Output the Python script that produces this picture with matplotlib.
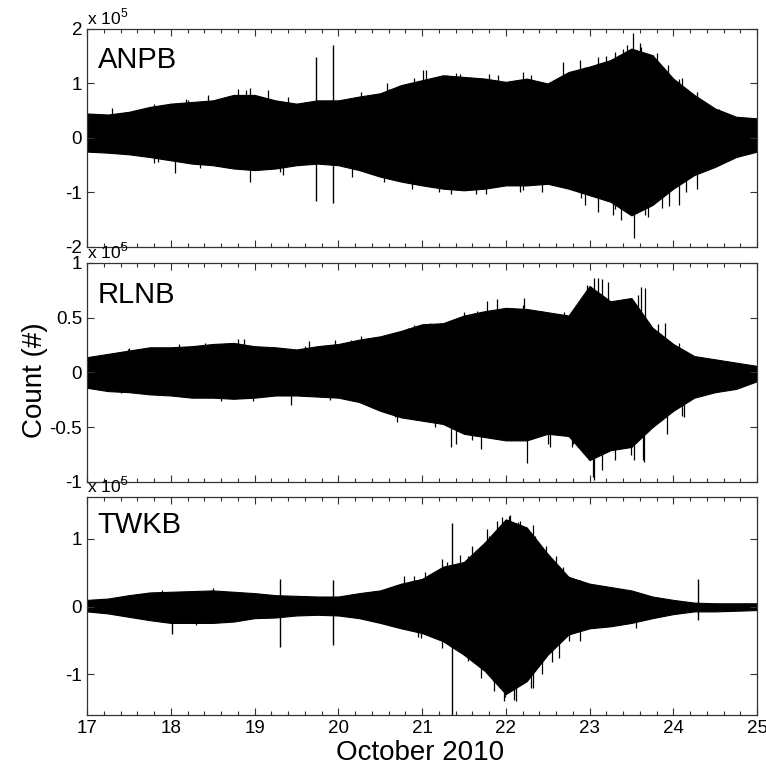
import numpy as np
from matplotlib import pyplot as plt

plt.rcParams.update({
    "font.family": ['Liberation Sans', 'DejaVu Sans'],
    "mathtext.fontset": 'custom',
    "mathtext.rm": 'Liberation Sans',
    "axes.unicode_minus": False,
    "xtick.direction": 'in',
    "ytick.direction": 'in',
})

# envelope readings, units of 1e5 counts
days = [17.0, 17.25, 17.5, 17.75, 18.0, 18.25, 18.5, 18.75, 19.0, 19.25, 19.5,
        19.75, 20.0, 20.25, 20.5, 20.75, 21.0, 21.25, 21.5, 21.75, 22.0, 22.25,
        22.5, 22.75, 23.0, 23.25, 23.5, 23.75, 24.0, 24.25, 24.5, 24.75, 25.0]

anpb_top = [0.45, 0.43, 0.48, 0.57, 0.63, 0.66, 0.69, 0.79, 0.79, 0.69, 0.63,
            0.69, 0.69, 0.76, 0.82, 0.97, 1.06, 1.15, 1.12, 1.09, 1.03, 1.09,
            1.00, 1.21, 1.31, 1.43, 1.64, 1.52, 1.09, 0.79, 0.54, 0.39, 0.36]
anpb_bot = [-0.25, -0.27, -0.30, -0.35, -0.41, -0.47, -0.50, -0.56, -0.59, -0.56, -0.50,
            -0.47, -0.50, -0.59, -0.71, -0.80, -0.87, -0.93, -0.96, -0.93, -0.87, -0.87,
            -0.84, -0.93, -1.05, -1.17, -1.42, -1.23, -0.93, -0.68, -0.53, -0.35, -0.25]

rlnb_top = [0.14, 0.17, 0.20, 0.23, 0.23, 0.24, 0.26, 0.27, 0.24, 0.23, 0.21,
            0.24, 0.26, 0.30, 0.33, 0.38, 0.44, 0.45, 0.52, 0.56, 0.59, 0.58,
            0.55, 0.52, 0.79, 0.65, 0.68, 0.41, 0.26, 0.15, 0.12, 0.09, 0.06]
rlnb_bot = [-0.14, -0.17, -0.18, -0.20, -0.21, -0.23, -0.23, -0.24, -0.23, -0.21, -0.21,
            -0.22, -0.23, -0.27, -0.35, -0.41, -0.44, -0.47, -0.56, -0.59, -0.62, -0.62,
            -0.56, -0.58, -0.80, -0.71, -0.68, -0.50, -0.35, -0.23, -0.18, -0.15, -0.08]

twkb_top = [0.10, 0.12, 0.17, 0.21, 0.22, 0.23, 0.24, 0.22, 0.20, 0.17, 0.16,
            0.15, 0.15, 0.20, 0.24, 0.34, 0.41, 0.59, 0.66, 0.95, 1.29, 1.17,
            0.78, 0.44, 0.34, 0.29, 0.24, 0.15, 0.10, 0.06, 0.05, 0.05, 0.05]
twkb_bot = [-0.07, -0.10, -0.15, -0.20, -0.24, -0.24, -0.24, -0.22, -0.17, -0.16, -0.13,
            -0.12, -0.13, -0.17, -0.24, -0.32, -0.39, -0.51, -0.71, -0.95, -1.29, -1.10,
            -0.71, -0.41, -0.32, -0.29, -0.24, -0.17, -0.11, -0.07, -0.07, -0.06, -0.05]

# fringe spikes sticking out of the envelope
anpb_up_day = [17.3, 17.8, 18.18, 18.2, 18.45, 18.8, 18.9, 18.95, 19.16, 19.4, 20.27,
               20.58, 20.6, 20.9, 21.01, 21.05, 21.3, 21.4, 21.45, 21.8, 21.91, 22.2,
               22.3, 22.68, 22.89, 22.95, 23.1, 23.2, 23.3, 23.4, 23.45, 23.52, 23.6,
               23.61, 23.76, 23.8, 23.94, 24.07, 24.1, 24.28, 24.55]
anpb_up_val = [0.55, 0.62, 0.72, 0.70, 0.78, 0.90, 0.88, 0.91, 0.88, 0.75, 0.85,
               1.00, 0.90, 1.10, 1.24, 1.24, 1.15, 1.20, 1.18, 1.18, 1.15, 1.21,
               1.15, 1.40, 1.43, 1.30, 1.49, 1.50, 1.58, 1.64, 1.70, 1.92, 1.75,
               1.67, 1.52, 1.55, 1.34, 1.09, 1.10, 0.85, 0.54]
anpb_dn_day = [17.8, 17.85, 18.05, 18.35, 18.95, 19.3, 19.34, 20.16, 20.55, 20.88,
               21.2, 21.35, 21.65, 21.76, 22.17, 22.2, 22.43, 22.9, 22.94, 23.1,
               23.28, 23.3, 23.38, 23.53, 23.66, 23.7, 23.87, 23.95, 24.07, 24.15, 24.28]
anpb_dn_val = [-0.45, -0.44, -0.65, -0.55, -0.80, -0.62, -0.68, -0.71, -0.80, -0.93,
               -1.00, -1.02, -1.02, -1.02, -0.99, -0.95, -0.99, -1.10, -1.23, -1.35,
               -1.42, -1.30, -1.51, -1.84, -1.42, -1.45, -1.29, -1.25, -1.23, -1.00, -0.93]

rlnb_up_day = [17.49, 17.5, 18.1, 18.41, 18.8, 18.88, 19.6, 19.65, 19.96, 20.15,
               20.27, 20.83, 20.9, 21.09, 21.35, 21.5, 21.66, 21.78, 21.9, 22.2,
               22.22, 22.43, 22.63, 22.7, 22.97, 23.05, 23.1, 23.15, 23.22, 23.4,
               23.58, 23.62, 23.66, 23.82, 23.9, 24.07]
rlnb_up_val = [0.21, 0.22, 0.26, 0.27, 0.31, 0.31, 0.24, 0.29, 0.30, 0.30,
               0.33, 0.41, 0.43, 0.45, 0.47, 0.55, 0.56, 0.65, 0.67, 0.62,
               0.68, 0.56, 0.50, 0.55, 0.80, 0.86, 0.86, 0.85, 0.83, 0.50,
               0.71, 0.78, 0.77, 0.44, 0.45, 0.27]
rlnb_dn_day = [17.4, 17.64, 18.6, 18.98, 19.44, 19.9, 20.68, 20.7, 21.15, 21.35,
               21.4, 21.6, 21.7, 22.25, 22.5, 22.53, 22.79, 22.8, 23.04, 23.05,
               23.15, 23.3, 23.5, 23.53, 23.64, 23.65, 23.92, 24.1, 24.13]
rlnb_dn_val = [-0.19, -0.18, -0.26, -0.26, -0.30, -0.25, -0.41, -0.45, -0.50, -0.68,
               -0.65, -0.62, -0.70, -0.83, -0.65, -0.68, -0.68, -0.65, -0.95, -0.98,
               -0.89, -0.80, -0.75, -0.80, -0.80, -0.82, -0.56, -0.40, -0.41]

twkb_up_day = [17.9, 18.5, 20.78, 20.9, 21.04, 21.24, 21.3, 21.45, 21.55, 21.6,
               21.78, 21.8, 21.89, 21.95, 22.04, 22.05, 22.15, 22.17, 22.32, 22.35,
               22.48, 22.6, 22.68, 22.89]
twkb_up_val = [0.25, 0.27, 0.46, 0.45, 0.51, 0.71, 0.66, 0.76, 0.75, 0.90,
               1.15, 1.05, 1.27, 1.32, 1.34, 1.35, 1.25, 1.27, 1.20, 1.05,
               0.90, 0.75, 0.59, 0.39]
twkb_dn_day = [18.3, 20.95, 20.99, 21.24, 21.55, 21.71, 21.85, 21.86, 21.98, 21.99,
               22.1, 22.12, 22.3, 22.32, 22.43, 22.55, 22.63, 22.75, 22.89, 23.56]
twkb_dn_val = [-0.27, -0.45, -0.46, -0.61, -0.80, -1.05, -1.10, -1.24, -1.40, -1.34,
               -1.38, -1.39, -1.20, -1.20, -1.00, -0.82, -0.76, -0.50, -0.51, -0.32]

# single-sample glitches
anpb_glitch_day = [19.73, 19.94]
anpb_glitch_top = [1.49, 1.70]
anpb_glitch_bot = [-1.16, -1.19]

twkb_glitch_day = [18.02, 19.30, 19.94, 21.36, 24.30]
twkb_glitch_top = [0.0, 0.41, 0.39, 1.24, 0.41]
twkb_glitch_bot = [-0.41, -0.60, -0.57, -1.62, -0.20]

stations = ['ANPB', 'RLNB', 'TWKB']
ylims = [(-2, 2), (-1, 1), (-1.6, 1.62)]
yticks = [[-2, -1, 0, 1, 2], [-1, -0.5, 0, 0.5, 1], [-1, 0, 1]]
ylabels_txt = [['-2', '-1', '0', '1', '2'], ['-1', '-0.5', '0', '0.5', '1'], ['-1', '0', '1']]
label_y = [0.82, 0.817, 0.835]

panels = [
    (anpb_top, anpb_bot, anpb_up_day, anpb_up_val, anpb_dn_day, anpb_dn_val,
     anpb_glitch_day, anpb_glitch_top, anpb_glitch_bot),
    (rlnb_top, rlnb_bot, rlnb_up_day, rlnb_up_val, rlnb_dn_day, rlnb_dn_val,
     [], [], []),
    (twkb_top, twkb_bot, twkb_up_day, twkb_up_val, twkb_dn_day, twkb_dn_val,
     twkb_glitch_day, twkb_glitch_top, twkb_glitch_bot),
]

fig = plt.figure(figsize=(7.66, 7.68), dpi=100)
boxes = [[0.1136, 0.6784, 0.8747, 0.2839],
         [0.1136, 0.3724, 0.8747, 0.2852],
         [0.1136, 0.0690, 0.8747, 0.2839]]

for i, (box, data) in enumerate(zip(boxes, panels)):
    top, bot, ud, uv, dd, dv, gd, gt, gb = data
    ax = fig.add_axes(box)
    ax.fill_between(days, bot, top, color='k', lw=0.8)
    ax.vlines(ud, 0, uv, color='k', lw=0.9)
    ax.vlines(dd, dv, 0, color='k', lw=0.9)
    if gd:
        ax.vlines(gd, gb, gt, color='k', lw=1.0)

    ax.set_xlim(17, 25)
    ax.set_ylim(*ylims[i])
    ax.set_xticks(range(17, 26))
    ax.set_xticks(np.arange(17, 25.01, 0.2), minor=True)
    ax.set_yticks(yticks[i])
    ax.set_yticklabels(ylabels_txt[i])
    ax.tick_params(which='both', top=True, right=True, labelsize=13.5,
                   color='#333333', width=0.8)
    ax.tick_params(which='major', length=5)
    ax.tick_params(which='minor', length=3)
    if i < 2:
        ax.set_xticklabels([])
    for sp in ax.spines.values():
        sp.set_color('#333333')
        sp.set_linewidth(0.9)

    ax.text(0.016, label_y[i], stations[i], transform=ax.transAxes,
            fontsize=21, va='baseline', ha='left')
    ax.text(0.0, 1.005, r'x 10$^{5}$', transform=ax.transAxes,
            fontsize=12.5, va='bottom', ha='left')

fig.text(0.046, 0.505, 'Count (#)', rotation=90, fontsize=20,
         ha='center', va='center')
fig.text(0.548, 0.02, 'October 2010', fontsize=20, ha='center', va='center')

fig.savefig('out.png', dpi=100)
